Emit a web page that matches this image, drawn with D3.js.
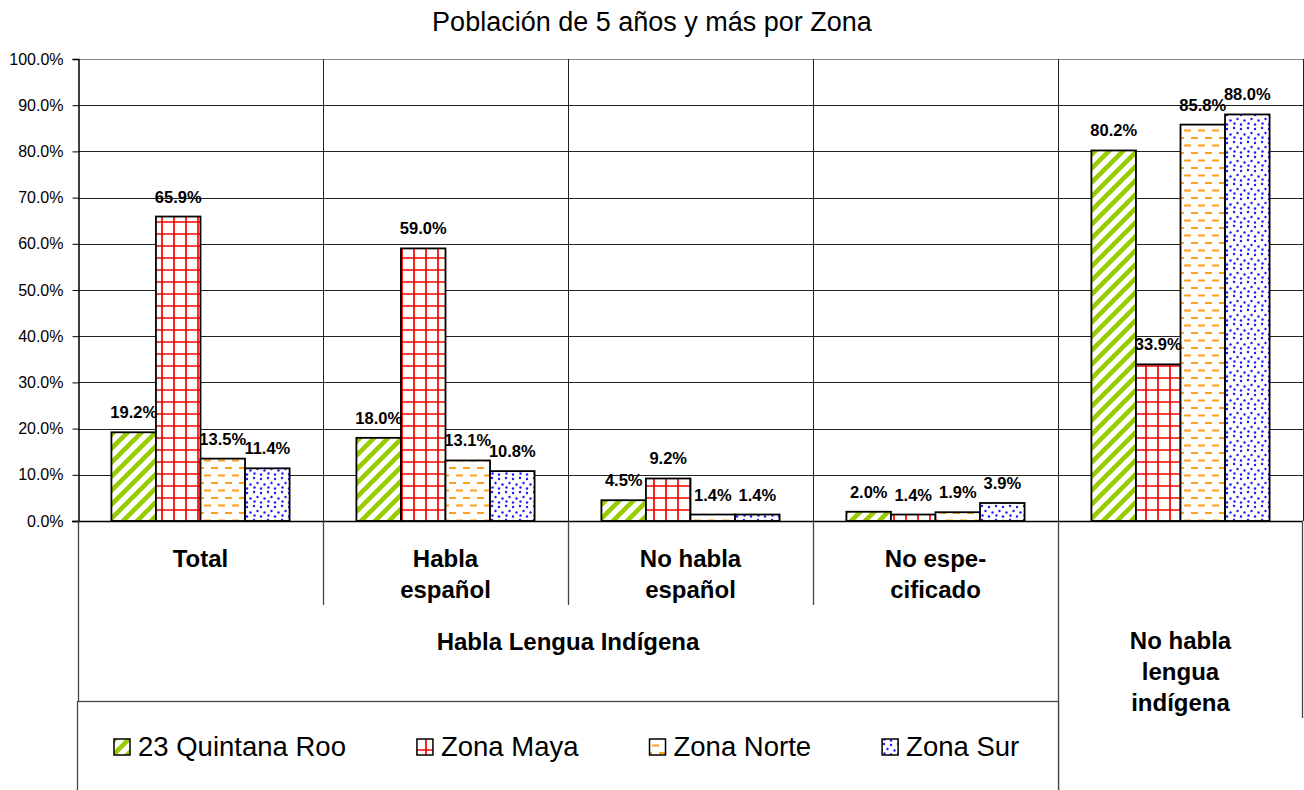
<!DOCTYPE html>
<html><head><meta charset="utf-8">
<script src="https://cdn.jsdelivr.net/npm/d3@7"></script>
<style>
body{margin:0;background:#fff;}
svg{display:block;font-family:"Liberation Sans",Arial,sans-serif;}
</style></head><body>
<svg id="chart" width="1304" height="790"></svg>
<script>
// ---------- data ----------
const title = "Población de 5 años y más por Zona";
const categories = ["Total","Habla español","No habla español","No especificado","No habla lengua indígena"];
const categoryLabelLines = [["Total"],["Habla","español"],["No habla","español"],["No espe-","cificado"]];
const groupLabel = "Habla Lengua Indígena";
const outerLabelLines = ["No habla","lengua","indígena"];
const seriesNames = ["23 Quintana Roo","Zona Maya","Zona Norte","Zona Sur"];
const quintanaRoo = [19.2,18.0,4.5,2.0,80.2];
const zonaMaya   = [65.9,59.0,9.2,1.4,33.9];
const zonaNorte  = [13.5,13.1,1.4,1.9,85.8];
const zonaSur    = [11.4,10.8,1.4,3.9,88.0];
const yTicks = [0,10,20,30,40,50,60,70,80,90,100];

const seriesValues = [quintanaRoo, zonaMaya, zonaNorte, zonaSur];
const patternIds = ["pGreen","pRed","pOrange","pBlue"];

// ---------- layout ----------
const W = 1304, H = 790;
const L = 78, R = 1303, T = 59, B = 521;
const svg = d3.select("#chart");

const x = d3.scaleBand().domain(categories).range([L, R]).paddingInner(0).paddingOuter(0);
const xs = d3.scaleBand().domain(seriesNames).range([0, x.bandwidth()]).paddingInner(0).paddingOuter(0.75);
const y = d3.scaleLinear().domain([0, 100]).range([B, T]);

// ---------- patterns ----------
const defs = svg.append("defs");
const pg = defs.append("pattern").attr("id","pGreen").attr("patternUnits","userSpaceOnUse")
  .attr("width",14).attr("height",14);
pg.append("rect").attr("width",14).attr("height",14).attr("fill","#fff");
pg.append("path").attr("d","M-4,4 L4,-4 M0,14 L14,0 M10,18 L18,10")
  .attr("stroke","#99CC00").attr("stroke-width",4.6);
const pr = defs.append("pattern").attr("id","pRed").attr("patternUnits","userSpaceOnUse")
  .attr("width",12).attr("height",12);
pr.append("rect").attr("width",12).attr("height",12).attr("fill","#fff");
pr.append("path").attr("d","M0,6 H12 M6,0 V12").attr("stroke","#FF0000").attr("stroke-width",1.7);
const po = defs.append("pattern").attr("id","pOrange").attr("patternUnits","userSpaceOnUse")
  .attr("width",14).attr("height",15);
po.append("rect").attr("width",14).attr("height",15).attr("fill","#fff");
po.append("path").attr("d","M1,3 H8 M8,10.5 H15 M-6,10.5 H1")
  .attr("stroke","#FF9F1C").attr("stroke-width",2.2);
const pb = defs.append("pattern").attr("id","pBlue").attr("patternUnits","userSpaceOnUse")
  .attr("width",14).attr("height",14);
pb.append("rect").attr("width",14).attr("height",14).attr("fill","#fff");
[[2,2],[9,3],[5.5,7],[12.5,8.5],[2.5,11.5],[9,12.5]].forEach(([cx,cy]) =>
  pb.append("circle").attr("cx",cx).attr("cy",cy).attr("r",1.2).attr("fill","#1a1aff"));

// ---------- title ----------
svg.append("text").attr("x",652).attr("y",31).attr("text-anchor","middle")
  .attr("font-size",27).attr("fill","#000").text(title);

// ---------- gridlines ----------
svg.append("g").selectAll("line").data(yTicks).join("line")
  .attr("x1",L).attr("x2",R).attr("y1",d=>Math.round(y(d))+0.5).attr("y2",d=>Math.round(y(d))+0.5)
  .attr("stroke",d=>d===100?"#888":"#222").attr("stroke-width",1);
const vBounds = categories.slice(1).map(c => x(c)).concat([R]);
svg.append("g").selectAll("line").data(vBounds).join("line")
  .attr("x1",d=>Math.round(d)+0.5).attr("x2",d=>Math.round(d)+0.5).attr("y1",T).attr("y2",B)
  .attr("stroke","#222").attr("stroke-width",1);

// ---------- y axis ----------
const yAxis = d3.axisLeft(y).tickValues(yTicks).tickFormat(d => d.toFixed(1) + "%").tickSize(6).tickPadding(9);
const gy = svg.append("g").attr("transform",`translate(${L+0.5},0)`).call(yAxis);
gy.select(".domain").attr("stroke","#000").attr("stroke-width",1.5);
gy.selectAll(".tick line").attr("stroke","#000");
gy.selectAll(".tick text").attr("font-size",16).attr("fill","#000")
  .attr("font-family","'Liberation Sans',Arial,sans-serif");

// ---------- bars ----------
const barData = [];
categories.forEach((c, ci) => seriesNames.forEach((s, si) =>
  barData.push({c, s, si, v: seriesValues[si][ci]})));
svg.append("g").selectAll("rect").data(barData).join("rect")
  .attr("x", d => x(d.c) + xs(d.s))
  .attr("y", d => y(d.v))
  .attr("width", xs.bandwidth())
  .attr("height", d => y(0) - y(d.v))
  .attr("fill", d => `url(#${patternIds[d.si]})`)
  .attr("stroke","#000").attr("stroke-width",1.8);

// ---------- zero axis ----------
svg.append("line").attr("x1",L-6).attr("x2",R).attr("y1",B+0.5).attr("y2",B+0.5)
  .attr("stroke","#000").attr("stroke-width",1.5);

// ---------- value labels ----------
svg.append("g").selectAll("text").data(barData).join("text")
  .attr("x", d => x(d.c) + xs(d.s) + xs.bandwidth()/2)
  .attr("y", d => y(d.v) - 14)
  .attr("text-anchor","middle").attr("font-size",16.5).attr("font-weight","bold").attr("fill","#000")
  .text(d => d.v.toFixed(1) + "%");

// ---------- category axis separators ----------
const sep = svg.append("g").attr("stroke","#444").attr("stroke-width",1.3);
categories.slice(1,4).forEach(c => sep.append("line")
  .attr("x1",Math.round(x(c))+0.5).attr("x2",Math.round(x(c))+0.5).attr("y1",B).attr("y2",605));
sep.append("line").attr("x1",L+0.5).attr("x2",L+0.5).attr("y1",B).attr("y2",701);
sep.append("line").attr("x1",Math.round(x(categories[4]))+0.5).attr("x2",Math.round(x(categories[4]))+0.5).attr("y1",B).attr("y2",H);
sep.append("line").attr("x1",R-0.5).attr("x2",R-0.5).attr("y1",B).attr("y2",718);

// category labels
categoryLabelLines.forEach((lines, i) => {
  const cx = x(categories[i]) + x.bandwidth()/2;
  lines.forEach((t, li) => svg.append("text").attr("x",cx).attr("y",567 + li*31)
    .attr("text-anchor","middle").attr("font-size",24).attr("font-weight","bold").text(t));
});
svg.append("text").attr("x",(x(categories[0]) + x(categories[4]))/2).attr("y",650)
  .attr("text-anchor","middle").attr("font-size",24).attr("font-weight","bold").text(groupLabel);
outerLabelLines.forEach((t, li) => svg.append("text")
  .attr("x", x(categories[4]) + x.bandwidth()/2).attr("y", 649 + li*31)
  .attr("text-anchor","middle").attr("font-size",24).attr("font-weight","bold").text(t));

// ---------- legend ----------
svg.append("rect").attr("x",77.5).attr("y",701.5).attr("width",x(categories[4]) - 77.5 + 0.5).attr("height",120)
  .attr("fill","#fff").attr("stroke","#444").attr("stroke-width",1.3);
let lx = 114;
seriesNames.forEach((s, i) => {
  svg.append("rect").attr("x",lx).attr("y",739).attr("width",16).attr("height",16)
    .attr("fill",`url(#${patternIds[i]})`).attr("stroke","#000").attr("stroke-width",1.5);
  const t = svg.append("text").attr("x",lx + 24).attr("y",756).attr("font-size",27.5).attr("fill","#000").text(s);
  lx = lx + 24 + t.node().getComputedTextLength() + 71;
});
</script>
</body></html>
